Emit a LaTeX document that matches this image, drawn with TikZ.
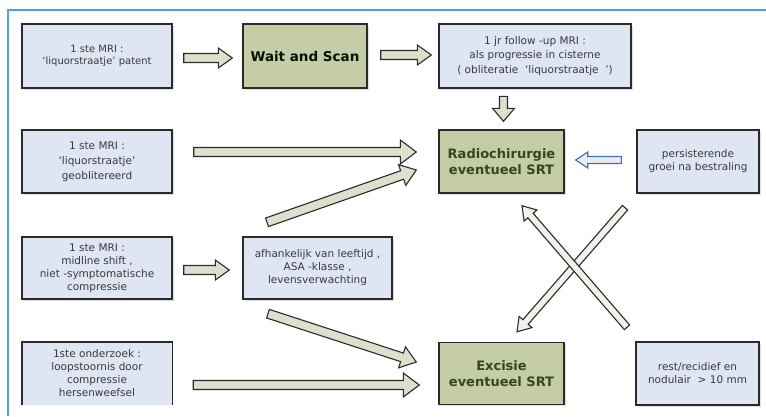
\documentclass[tikz,border=0pt]{standalone}
\usepackage{fontspec}
\setmainfont{DejaVu Sans}
\usetikzlibrary{calc,shadows}
\definecolor{boxblue}{HTML}{DFE5F3}
\definecolor{boxgreen}{HTML}{C4CDA5}
\definecolor{boxline}{HTML}{2A2A2A}
\definecolor{txtgray}{HTML}{3A3A3A}
\definecolor{txtgreen}{HTML}{34481F}
\definecolor{arrowfill}{HTML}{DEDFCC}
\definecolor{arrowline}{HTML}{2B2B2B}
\definecolor{framblue}{HTML}{4DA3E0}
\definecolor{bluearrow}{HTML}{3F72B8}
\newcommand{\fatarrow}[6][]{%
  \coordinate (fas) at (#2);
  \coordinate (fae) at (#3);
  \coordinate (fah) at ($(fae)!#6!(fas)$);
  \filldraw[fatarr,#1] ($(fas)!#4!90:(fae)$) -- ($(fah)!#4!90:(fae)$) -- ($(fah)!#5!90:(fae)$) -- (fae) -- ($(fah)!#5!-90:(fae)$) -- ($(fah)!#4!-90:(fae)$) -- ($(fas)!#4!-90:(fae)$) -- cycle;
}
\begin{document}
\begin{tikzpicture}[x=1pt,y=-1pt,
  base/.style={draw=boxline,line width=1.4pt,inner sep=0pt,align=center,
    drop shadow={shadow xshift=1.5pt,shadow yshift=-1.5pt,opacity=0.25}},
  bluebox/.style={base,fill=boxblue,text=txtgray,font=\fontsize{10.5}{13}\selectfont},
  greenbox/.style={base,fill=boxgreen,text=txtgreen,font=\fontsize{13}{16}\selectfont\bfseries},
  fatarr/.style={fill=arrowfill,draw=arrowline,line width=1.1pt,line join=miter}]
\useasboundingbox (0,0) rectangle (766,416);
\fill[white] (0,0) rectangle (766,416);
% frame
\draw[framblue,line width=1.5pt] (8,416) -- (8,10) -- (766,10);
% row 1
\node[bluebox,minimum width=150pt,minimum height=64pt,font=\fontsize{10}{11.5}\selectfont] (A) at (97,56) {1 ste MRI :\\`liquorstraatje' patent};
\node[greenbox,minimum width=124pt,minimum height=64pt,text=black!80!green!40!black,font=\fontsize{13.5}{16}\selectfont\bfseries] (WS) at (305,56) {Wait and Scan};
\node[bluebox,minimum width=192pt,minimum height=64pt,font=\fontsize{10.5}{14.5}\selectfont] (FU) at (535,56) {1 jr follow -up MRI :\\als progressie in cisterne\\( obliteratie~~`liquorstraatje~~')};
% row 2
\node[bluebox,minimum width=150pt,minimum height=63pt,font=\fontsize{10.5}{15}\selectfont] (B) at (97,161.5) {1 ste MRI :\\`liquorstraatje'\\geoblitereerd};
\node[greenbox,minimum width=125pt,minimum height=63pt] (R) at (501.5,161.5) {Radiochirurgie\\eventueel SRT};
\node[bluebox,minimum width=122pt,minimum height=63pt] (P) at (698,161.5) {persisterende\\groei na bestraling};
% row 3
\node[bluebox,minimum width=150pt,minimum height=62pt] (C) at (97,268) {1 ste MRI :\\midline shift ,\\niet -symptomatische\\compressie};
\node[bluebox,minimum width=149pt,minimum height=62pt] (AF) at (317.5,268) {afhankelijk van leeftijd ,\\ASA -klasse ,\\levensverwachting};
% row 4
\node[fill=boxblue,text=txtgray,inner sep=0pt,align=center,font=\fontsize{10.5}{13}\selectfont,minimum width=150pt,minimum height=63pt] (D) at (97,373.5) {1ste onderzoek :\\loopstoornis door\\compressie\\hersenweefsel};
\draw[boxline,line width=1.4pt] (D.south west) -- (D.north west) -- (D.north east) -- (D.south east);
\node[greenbox,minimum width=125pt,minimum height=62pt] (E) at (501.5,373.5) {Excisie\\eventueel SRT};
\node[bluebox,minimum width=123pt,minimum height=63pt] (RR) at (697.5,373.5) {rest/recidief en\\nodulair~~> 10 mm};
% arrows
\fatarrow{$(A.east)+(11,2)$}{$(WS.west)+(-10,2)$}{4.5pt}{10pt}{14pt}
\fatarrow{$(WS.east)+(13,-1)$}{$(FU.west)+(-7,-1)$}{4.5pt}{10pt}{14pt}
\fatarrow{$(R.north)+(2,-33)$}{$(R.north)+(2,-8)$}{4pt}{11pt}{13pt}
\fatarrow{$(B.east)+(21,-9.5)$}{$(R.west)+(-22,-9.5)$}{4.5pt}{12pt}{16pt}
\fatarrow{$(AF.north)+(-50.5,-14)$}{$(R.west)+(-22,8.5)$}{4.5pt}{11pt}{15pt}
\fatarrow{$(C.east)+(11,2)$}{$(AF.west)+(-13,2)$}{4.5pt}{10pt}{14pt}
\fatarrow{$(AF.south)+(-49.5,14)$}{$(E.west)+(-22,-11.5)$}{4.5pt}{11pt}{15pt}
\fatarrow{$(D.east)+(21,11.5)$}{$(E.west)+(-19,11.5)$}{4.5pt}{12pt}{16pt}
\fatarrow[draw=bluearrow,fill=black!8]{$(P.west)+(-15,-1.5)$}{$(R.east)+(11,-1.5)$}{3.5pt}{8pt}{12pt}
\fatarrow[fill=white!60!arrowfill]{$(P.south)+(-73,14)$}{$(E.north)+(15.5,-10)$}{3.5pt}{8.5pt}{13pt}
\fatarrow[fill=white!60!arrowfill]{$(RR.north)+(-70.5,-14)$}{$(R.south)+(20.5,12)$}{3.5pt}{8.5pt}{13pt}
\end{tikzpicture}
\end{document}
